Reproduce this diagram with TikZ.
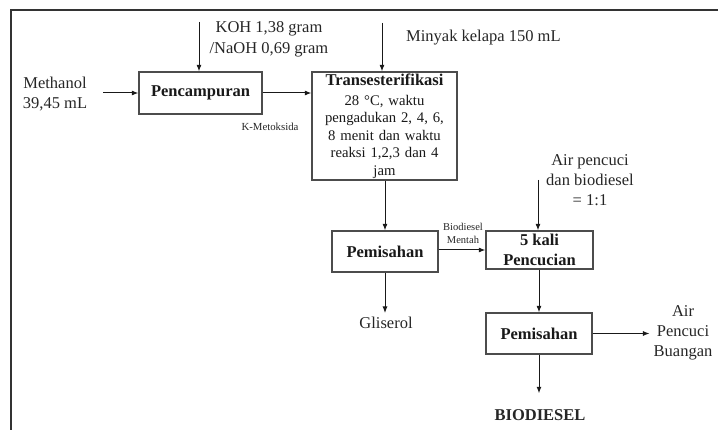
\documentclass[tikz,border=0pt]{standalone}
\usepackage{fontspec}
\setmainfont{Liberation Serif}
\usetikzlibrary{arrows.meta}
\begin{document}
\begin{tikzpicture}[x=1pt,y=-1pt,
  box/.style={draw=black!70,line width=1.3pt,inner sep=0pt,align=center,text=black!90,font=\fontsize{16.5}{20}\selectfont\bfseries},
  lbl/.style={inner sep=0pt,align=center,text=black!85,font=\fontsize{16.5}{20}\selectfont},
  small/.style={inner sep=0pt,align=center,text=black!85,font=\fontsize{10.5}{13}\selectfont},
  arr/.style={-{Latex[length=6.5pt,width=5pt]},line width=1pt,draw=black!90}]
\useasboundingbox (0,0) rectangle (718,430);
\draw[line width=1.8pt,black!80] (11,430) -- (11,10) -- (718,10);
% boxes
\node[box,minimum width=123pt,minimum height=42pt] (mix) at (200.5,93) {Pencampuran};
\node[box,minimum width=145pt,minimum height=108pt,text width=145pt,font=\fontsize{14.7}{17.5}\selectfont] (trans) at (384.5,126)
  {{\fontsize{16.5}{17.5}\selectfont\bfseries Transesterifikasi}\\[2.5pt]28 °C, waktu\\pengadukan 2, 4, 6,\\8 menit dan waktu\\reaksi 1,2,3 dan 4\\jam};
\node[box,minimum width=106pt,minimum height=41pt] (sep1) at (385,251.5) {Pemisahan};
\node[box,minimum width=107pt,minimum height=38pt] (wash) at (539.5,250) {5 kali\\Pencucian};
\node[box,minimum width=106pt,minimum height=41pt] (sep2) at (539,333.5) {Pemisahan};
% labels
\node[lbl] (meth) at (55,94) {Methanol\\39,45 mL};
\node[lbl,font=\fontsize{16.5}{21}\selectfont] (koh) at (269,39) {KOH 1,38 gram\\/NaOH 0,69 gram};
\node[lbl,anchor=west] (oil) at (406,38) {Minyak kelapa 150 mL};
\node[small,font=\fontsize{10.8}{13}\selectfont] (kmet) at (270,127) {K-Metoksida};
\node[small] (crude) at (463,233) {Biodiesel\\Mentah};
\node[lbl] (gly) at (386,323) {Gliserol};
\node[lbl] (water) at (590,180) {Air pencuci\\dan biodiesel\\= 1:1};
\node[lbl] (waste) at (683,333) {Air\\Pencuci\\Buangan};
\node[lbl,font=\fontsize{16.5}{20}\selectfont\bfseries] (bio) at (540,415) {BIODIESEL};
% free ends
\coordinate (m0) at (103,93);
\coordinate (k0) at (199,22);
\coordinate (o0) at (382,23);
\coordinate (w0) at (538,180);
% arrows
\draw[arr] (m0) -- (mix.west);
\draw[arr] (k0) -- (k0 |- mix.north);
\draw[arr] (mix.east) -- (trans.west |- mix.east);
\draw[arr] (o0) -- (o0 |- trans.north);
\draw[arr] (sep1.north |- trans.south) -- (sep1.north);
\draw[arr] (sep1.east |- wash.west) -- (wash.west);
\draw[arr,shorten >=4pt] (sep1.south) -- (sep1.south |- gly.north);
\draw[arr] (w0) -- (w0 |- wash.north);
\draw[arr] (sep2.north |- wash.south) -- (sep2.north);
\draw[arr,shorten >=4pt] (sep2.east) -- (sep2.east -| waste.west);
\draw[arr,shorten >=16pt] (sep2.south) -- (sep2.south |- bio.north);
\end{tikzpicture}
\end{document}
